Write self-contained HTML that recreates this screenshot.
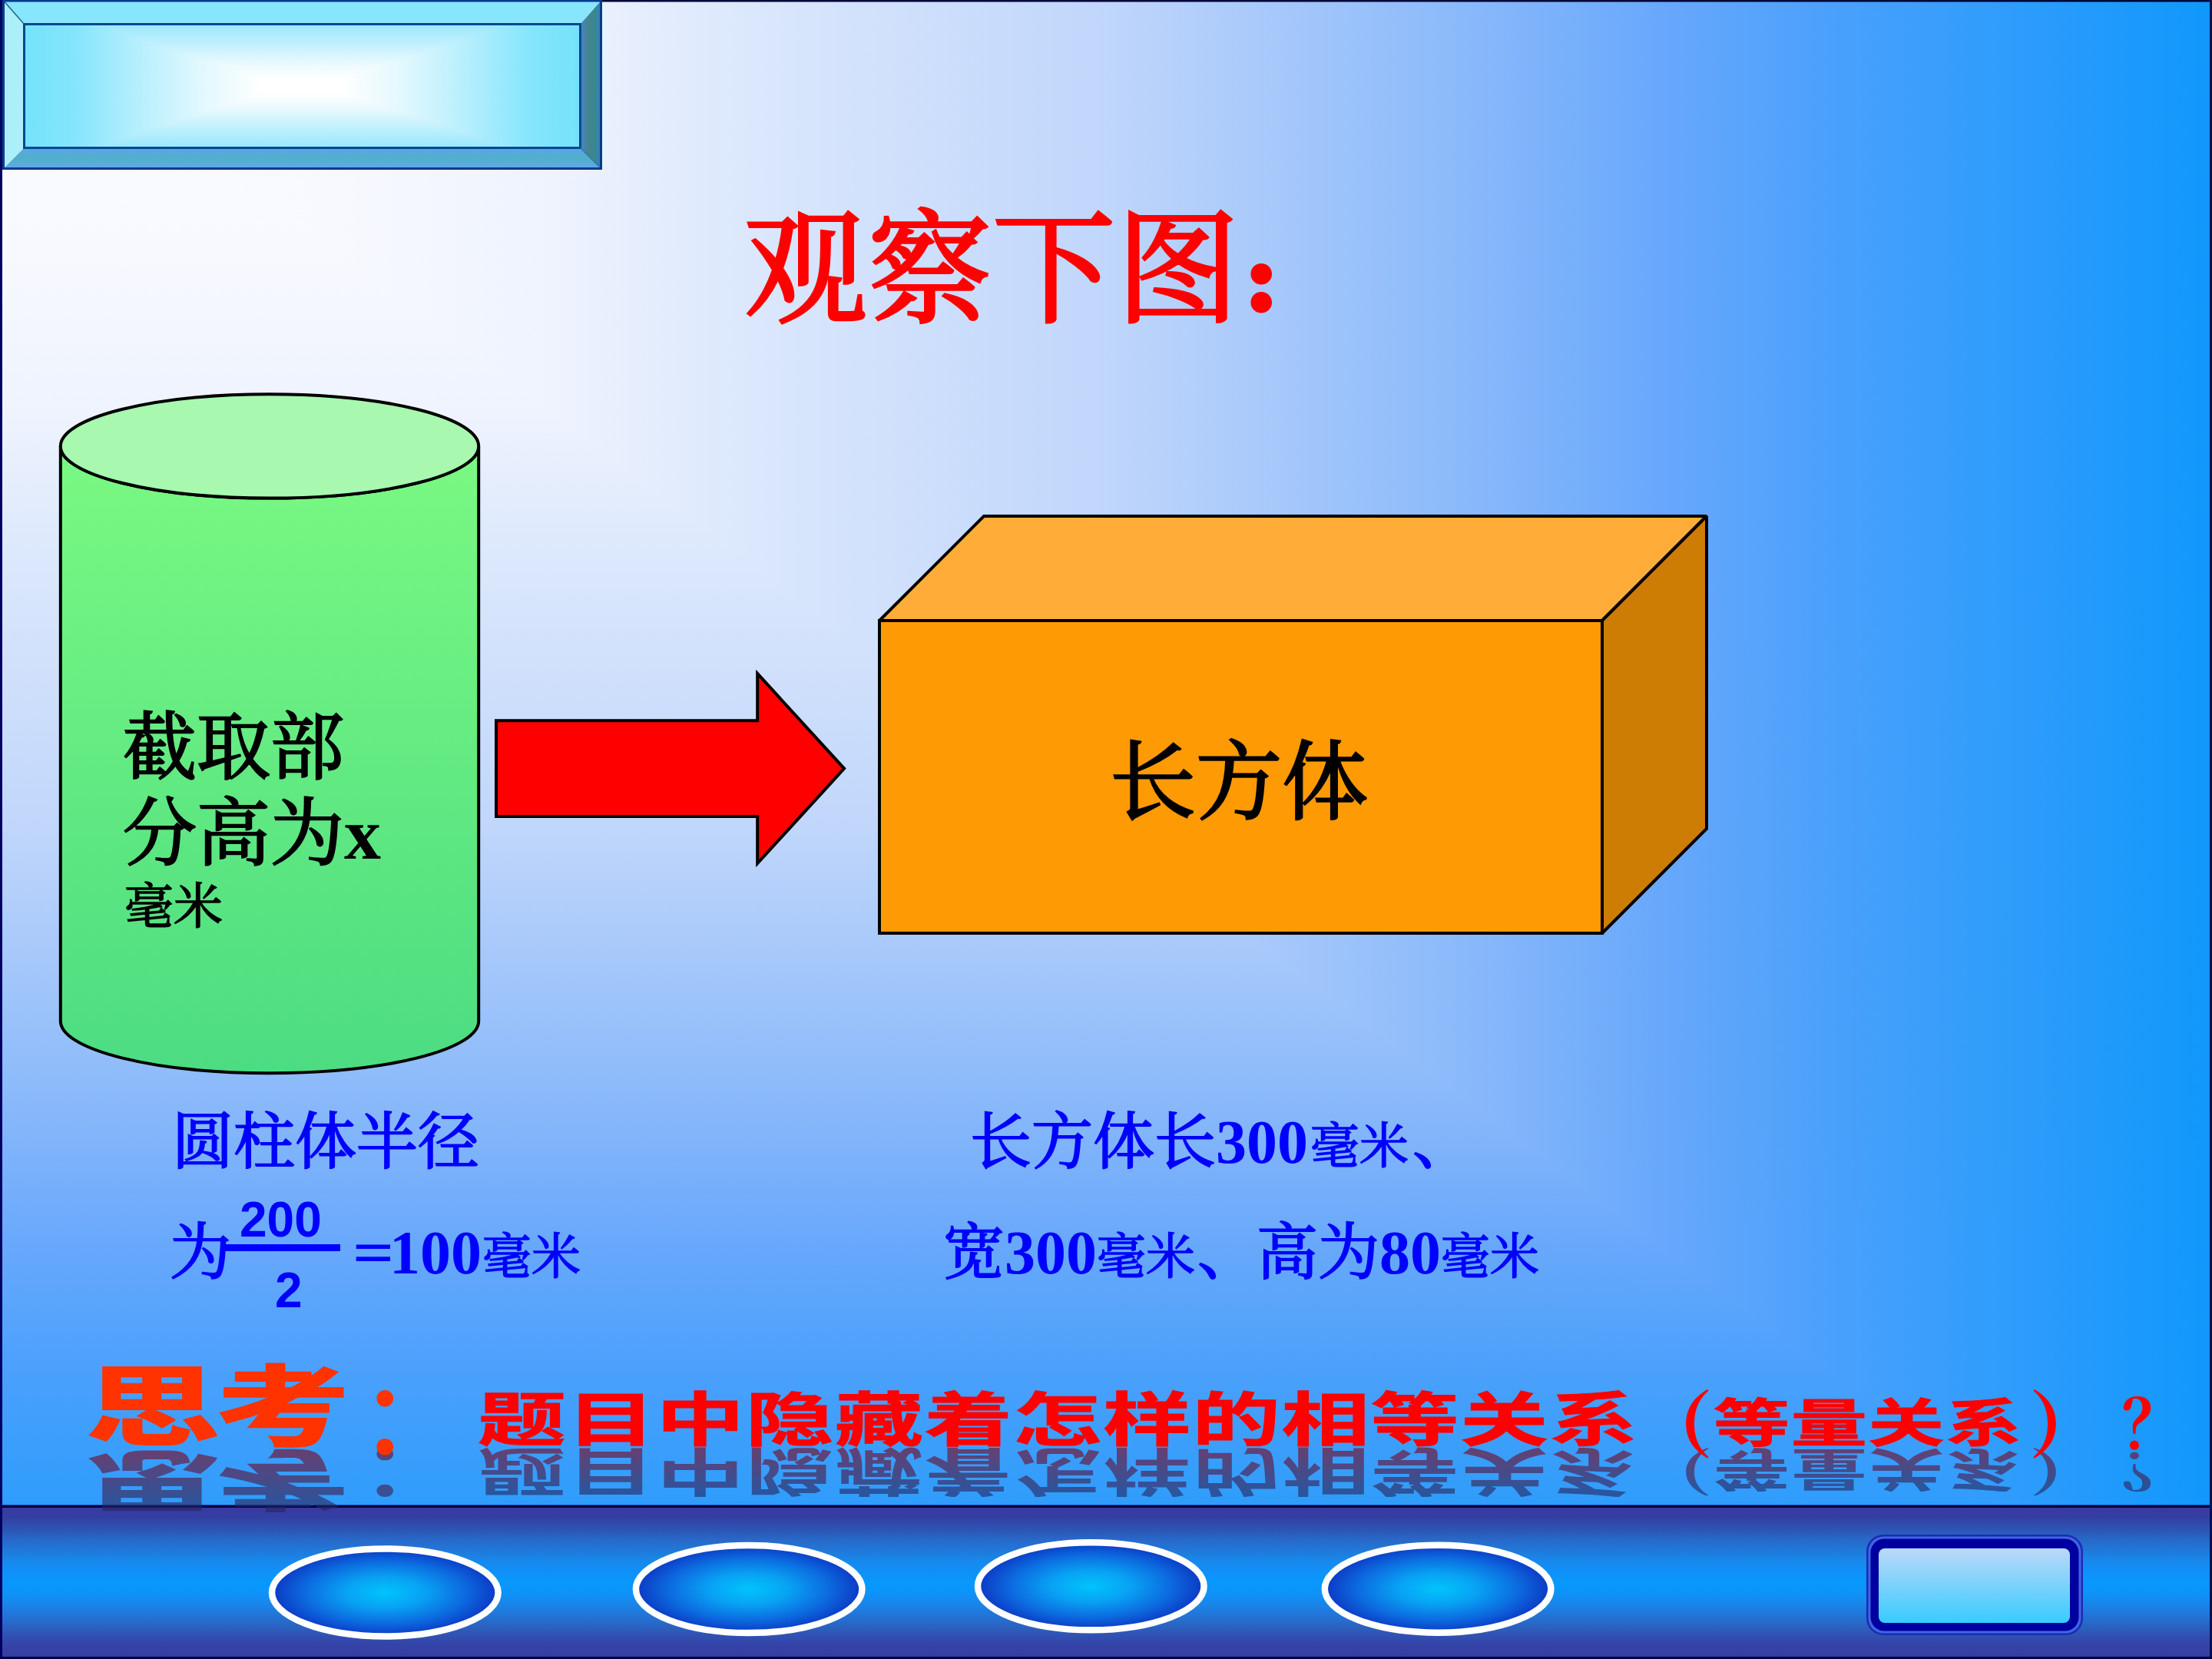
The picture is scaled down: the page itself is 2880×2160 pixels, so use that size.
<!DOCTYPE html>
<html lang="zh-CN">
<head>
<meta charset="utf-8">
<title>观察下图</title>
<style>
html,body{margin:0;padding:0;}
body{width:2880px;height:2160px;overflow:hidden;position:relative;background:#1090fc;}
#bg{position:absolute;left:0;top:0;width:2880px;height:2160px;
 background:
  linear-gradient(to right,#fbfbff 0%,#f8f9ff 15%,#eef3fe 25%,#dce8fc 33.3%,#c0d6fb 50%,#88b8fa 66.7%,#68a8fc 75%,#48a0fc 83.3%,#1098fc 100%),
  linear-gradient(to bottom,#fbfbff 0%,#f8f9ff 15%,#eef3fe 25%,#dce8fc 33.3%,#c0d6fb 50%,#88b8fa 66.7%,#68a8fc 75%,#48a0fc 83.3%,#1098fc 100%);
 background-blend-mode:darken;}
.abs{position:absolute;}
.t{position:absolute;white-space:nowrap;line-height:1;margin:0;}
.song{font-family:"Liberation Serif","Noto Serif CJK SC",serif;}
.arial{font-family:"Liberation Sans","Noto Sans CJK SC",sans-serif;}
.sb160{font-weight:400;-webkit-text-stroke:4px currentColor;}
.sb112{font-weight:400;-webkit-text-stroke:2.8px currentColor;}
.sb96{font-weight:400;-webkit-text-stroke:2.4px currentColor;}
.sb80{font-weight:400;-webkit-text-stroke:2px currentColor;}
.sb64{font-weight:400;-webkit-text-stroke:1.6px currentColor;}
.song b{font-weight:700;-webkit-text-stroke:0;}
.wa{position:absolute;white-space:nowrap;line-height:1;margin:0;transform-origin:0 0;font-family:"Liberation Sans","Noto Sans CJK SC","WenQuanYi Zen Hei",sans-serif;font-weight:900;z-index:3;}
.rf{z-index:2;color:transparent;background:linear-gradient(to bottom,rgba(30,40,100,0.6) 0%,rgba(125,25,55,0.72) 100%);-webkit-background-clip:text;background-clip:text;}
svg{position:absolute;left:0;top:0;}
</style>
</head>
<body>
<div id="bg"></div>
<!-- shapes -->
<div id="bevin" class="abs" style="left:31px;top:31px;width:725px;height:162px;background:linear-gradient(to right,#74e2fc 0%,#84e5fc 9%,#b4eefd 20%,#e2f8fe 32%,#ffffff 43%,#ffffff 57%,#e2f8fe 68%,#b4eefd 80%,#84e5fc 91%,#74e2fc 100%),linear-gradient(to bottom,#98e8fc 0%,#c0f0fd 16%,#ecfaff 33%,#ffffff 45%,#ffffff 55%,#ecfaff 67%,#c0f0fd 84%,#98e8fc 100%);background-blend-mode:darken;"></div>
<svg id="shapes" width="2880" height="2160" viewBox="0 0 2880 2160">
<defs>
 <linearGradient id="cylg" x1="0" y1="0" x2="0" y2="1">
  <stop offset="0" stop-color="#7af982"/><stop offset="1" stop-color="#4cdc82"/>
 </linearGradient>
 <linearGradient id="bevl" x1="0" y1="0" x2="1" y2="0">
  <stop offset="0" stop-color="#b8e8fc"/><stop offset="0.45" stop-color="#a8f0f8"/><stop offset="1" stop-color="#b4ecfc"/>
 </linearGradient>
 <linearGradient id="bevb" x1="0" y1="0" x2="0" y2="1">
  <stop offset="0" stop-color="#5ca4ec"/><stop offset="0.5" stop-color="#50b0c8"/><stop offset="1" stop-color="#60a8ec"/>
 </linearGradient>
 <linearGradient id="bevr" x1="0" y1="0" x2="1" y2="0">
  <stop offset="0" stop-color="#4884c8"/><stop offset="0.4" stop-color="#44848c"/><stop offset="0.7" stop-color="#388890"/><stop offset="1" stop-color="#3c7cc0"/>
 </linearGradient>
 <linearGradient id="barg" x1="0" y1="0" x2="0" y2="1">
  <stop offset="0" stop-color="#3838a0"/><stop offset="0.08" stop-color="#3440a4"/><stop offset="0.15" stop-color="#2c54b4"/><stop offset="0.22" stop-color="#2868c8"/><stop offset="0.29" stop-color="#2078d8"/><stop offset="0.36" stop-color="#1888ec"/><stop offset="0.43" stop-color="#1090f8"/><stop offset="0.5" stop-color="#0898fc"/><stop offset="0.567" stop-color="#0c94fa"/><stop offset="0.636" stop-color="#1888ec"/><stop offset="0.705" stop-color="#2078dc"/><stop offset="0.775" stop-color="#2868c8"/><stop offset="0.844" stop-color="#3054b4"/><stop offset="0.913" stop-color="#3444a8"/><stop offset="1" stop-color="#383ca0"/>
 </linearGradient>
 <radialGradient id="ellg" cx="0.5" cy="0.5" r="0.5">
  <stop offset="0" stop-color="#00c4fc"/><stop offset="0.35" stop-color="#08a2f4"/><stop offset="0.7" stop-color="#0c6ce0"/><stop offset="1" stop-color="#0c38c4"/>
 </radialGradient>
 <linearGradient id="btng" x1="0" y1="0" x2="0" y2="1">
  <stop offset="0" stop-color="#bcd8f8"/><stop offset="1" stop-color="#38ccff"/>
 </linearGradient>
</defs>
<!-- bevel -->
<g id="bevel">
 <polygon points="4.5,1 782.5,1 755.5,31.5 31.5,31.5" fill="#88e6fc"/>
 <polygon points="4.5,1 31.5,31.5 31.5,192.5 4.5,219.5" fill="url(#bevl)"/>
 <polygon points="4.5,219.5 31.5,192.5 755.5,192.5 782.5,219.5" fill="url(#bevb)"/>
 <polygon points="782.5,1 755.5,31.5 755.5,192.5 782.5,219.5" fill="url(#bevr)"/>
 <rect x="31.5" y="31.5" width="724" height="161" fill="none" stroke="#004890" stroke-width="3"/>
 <line x1="6" y1="2.5" x2="31.5" y2="31.5" stroke="#206888" stroke-width="1.6"/>
 <line x1="755.5" y1="192.5" x2="781" y2="218" stroke="#2070a8" stroke-width="1.6" opacity="0.7"/>
 <rect x="4.5" y="1" width="778" height="218.5" fill="none" stroke="#003c8c" stroke-width="3"/>
</g>
<!-- cylinder -->
<g id="cyl" stroke="#000" stroke-width="4">
 <path d="M78.8,580.9 L78.8,1329.5 A272.2,67.7 0 0 0 623.2,1329.5 L623.2,580.9 A272.2,67.7 0 0 1 78.8,580.9 Z" fill="url(#cylg)"/>
 <ellipse cx="351" cy="580.9" rx="272.2" ry="67.7" fill="#a8f8b0"/>
</g>
<!-- arrow -->
<polygon points="646,938.2 986.2,938.2 986.2,877 1099.1,1000.6 986.2,1124.2 986.2,1063 646,1063" fill="#ff0000" stroke="#000" stroke-width="4" stroke-linejoin="miter" stroke-miterlimit="10"/>
<!-- cuboid -->
<g id="cube" stroke="#000" stroke-width="4" stroke-linejoin="miter" stroke-miterlimit="2">
 <polygon points="1145,808 1281,672 2222,672 2086,808" fill="#ffad38"/>
 <polygon points="2086,808 2222,672 2222,1079 2086,1215" fill="#cd7c04"/>
 <rect x="1145" y="808" width="941" height="407" fill="#fe9a04"/>
</g>
<!-- footer bar -->
<g id="bar">
 <rect x="0" y="1961" width="2880" height="197" fill="url(#barg)"/>
 <rect x="0" y="1959.5" width="2880" height="3.5" fill="#000048"/>
 <ellipse cx="501.3" cy="2073.5" rx="147.3" ry="57" fill="url(#ellg)" stroke="#fff" stroke-width="8.5"/>
 <ellipse cx="975.2" cy="2069.1" rx="147.3" ry="57" fill="url(#ellg)" stroke="#fff" stroke-width="8.5"/>
 <ellipse cx="1420.3" cy="2065.3" rx="147.3" ry="57" fill="url(#ellg)" stroke="#fff" stroke-width="8.5"/>
 <ellipse cx="1872.1" cy="2068.7" rx="147.3" ry="57" fill="url(#ellg)" stroke="#fff" stroke-width="8.5"/>
 <rect x="2430" y="1998" width="282" height="131" rx="22" fill="#1c2cb0"/>
 <rect x="2432.5" y="2000.5" width="277" height="126" rx="20" fill="#4064e4"/>
 <rect x="2435.5" y="2003.5" width="271" height="120" rx="18" fill="#0000a0"/>
 <rect x="2446" y="2016" width="249" height="97" rx="8" fill="url(#btng)"/>
</g>
<!-- frame -->
<rect x="0" y="0" width="3" height="2160" fill="#000060"/>
<rect x="784" y="0" width="2096" height="2.5" fill="#000838"/>
<rect x="2877" y="0" width="3" height="2160" fill="#001050"/>
<rect x="0" y="2157" width="2880" height="3" fill="#000040"/>
</svg>

<!-- texts -->
<div class="t song sb160" id="title" style="left:969px;top:273px;font-size:160px;color:#ff0000;letter-spacing:1.5px;">观察下图</div>
<div class="t song" id="colon" style="left:1623.5px;top:305px;font-size:115px;font-weight:700;color:#ff0000;-webkit-text-stroke:9px #ff0000;">:</div>

<div class="t song sb96" id="c1" style="left:160px;top:926px;font-size:96px;color:#000;">截取部</div>
<div class="t song sb96" id="c2" style="left:160px;top:1038px;font-size:96px;color:#000;">分高为<b>x</b></div>
<div class="t song sb64" id="c3" style="left:162px;top:1149px;font-size:64px;color:#000;">毫米</div>

<div class="t song sb112" id="cube-t" style="left:1445px;top:963.5px;font-size:112px;color:#000;">长方体</div>

<div class="t song sb80" id="l1" style="left:224px;top:1447px;font-size:80px;color:#0000ff;">圆柱体半径</div>
<div class="t song sb80" id="l2" style="left:221px;top:1591px;font-size:80px;color:#0000ff;">为</div>
<div class="t arial" id="f1" style="left:312px;top:1556px;font-size:64px;font-weight:700;color:#0000ff;">200</div>
<div class="abs" id="fbar" style="left:287px;top:1620px;width:156px;height:9px;background:#0000ff;"></div>
<div class="t arial" id="f2" style="left:358px;top:1648px;font-size:64px;font-weight:700;color:#0000ff;">2</div>
<div class="t song sb80" id="l3" style="left:459px;top:1591px;font-size:80px;color:#0000ff;"><b><span style="display:inline-block;margin-right:2.5px;transform:scaleX(1.19);transform-origin:0 50%">=</span>100</b><span class="sb64" style="font-size:64px;margin-left:1px">毫米</span></div>

<div class="t song sb80" id="r1" style="left:1263px;top:1447px;font-size:80px;color:#0000ff;">长方体长<b>300</b><span class="sb64" style="font-size:64px;margin-left:3px">毫米</span><span style="margin-left:5px">、</span></div>
<div class="t song sb80" id="r2" style="left:1228px;top:1591px;font-size:80px;color:#0000ff;">宽<b>300</b><span class="sb64" style="font-size:64px">毫米</span><span style="margin-left:3px;margin-right:-3px">、</span>高为<b>80</b><span class="sb64" style="font-size:64px">毫米</span></div>


<!-- wordart -->
<div class="wa" id="w1" style="left:110px;top:1776.3px;font-size:118px;letter-spacing:-5px;color:#ff3300;transform:scale(1.5,0.97);">思考</div>
<div class="wa" id="w1c" style="left:469px;top:1785px;font-size:129px;font-weight:500;color:#ff3300;">：</div>
<div class="wa rf" aria-hidden="true" id="w1r" style="left:110px;top:1968.9px;font-size:118px;letter-spacing:-5px;transform:scale(1.5,-0.74);">思考</div>
<div class="wa rf" aria-hidden="true" id="w1cr" style="left:469px;top:1968.8px;font-size:129px;font-weight:500;transform:scale(1,-0.76);">：</div>

<div class="wa" id="w2" style="font-weight:700;-webkit-text-stroke:1px #ff0000;left:622px;top:1812.4px;font-size:76px;letter-spacing:1px;color:#ff0000;transform:scale(1.51,1);">题目中隐藏着怎样的相等关系</div>
<div class="wa rf" aria-hidden="true" id="w2r" style="font-weight:700;left:622px;top:1949.0px;font-size:76px;letter-spacing:1px;transform:scale(1.51,-0.9);">题目中隐藏着怎样的相等关系</div>
<div class="wa" id="w3" style="font-weight:700;-webkit-text-stroke:1px #ff0000;left:2231px;top:1820px;font-size:67px;letter-spacing:1px;color:#ff0000;transform:scale(1.48,1);">等量关系</div>
<div class="wa rf" aria-hidden="true" id="w3r" style="font-weight:700;left:2231px;top:1942.1px;font-size:67px;letter-spacing:1px;transform:scale(1.48,-0.9);">等量关系</div>
<div class="wa" id="w4" style="font-family:'Liberation Serif','Noto Serif CJK SC',serif;font-weight:900;left:2134px;top:1811px;font-size:80px;color:#ff0000;transform:scale(1.2,1.18);">（</div>
<div class="wa rf" aria-hidden="true" id="w4r" style="font-family:'Liberation Serif','Noto Serif CJK SC',serif;font-weight:900;left:2134px;top:1947.2px;font-size:80px;transform:scale(1.2,-0.83);">（</div>
<div class="wa" id="w5" style="font-family:'Liberation Serif','Noto Serif CJK SC',serif;font-weight:900;left:2641.5px;top:1811px;font-size:80px;color:#ff0000;transform:scale(1.2,1.18);">）</div>
<div class="wa rf" aria-hidden="true" id="w5r" style="font-family:'Liberation Serif','Noto Serif CJK SC',serif;font-weight:900;left:2641.5px;top:1947.2px;font-size:80px;transform:scale(1.2,-0.83);">）</div>
<div class="wa" id="w6" style="font-family:'Liberation Serif','Noto Serif CJK SC',serif;font-weight:700;left:2763px;top:1812.6px;font-size:80px;color:#ff0000;transform:scale(1.0,1.097);">？</div>
<div class="wa rf" aria-hidden="true" id="w6r" style="font-family:'Liberation Serif','Noto Serif CJK SC',serif;font-weight:700;left:2763px;top:1946.3px;font-size:80px;transform:scale(1.0,-0.805);">？</div>
</body>
</html>
